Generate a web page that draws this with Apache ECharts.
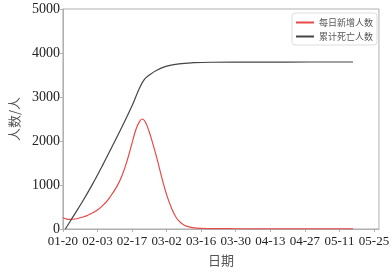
<!DOCTYPE html>
<html>
<head>
<meta charset="utf-8">
<script src="https://cdn.jsdelivr.net/npm/echarts@6/dist/echarts.min.js"></script>
<style>
    html, body { margin: 0; padding: 0; background: #fff; }
    #chart_1 { width: 392px; height: 272px; }
</style>
</head>
<body>
<div id="chart_1"></div>
<script>
// 数据 (从图上读取, 天数从 01-20 起算)
var tickLabels = ['01-20', '02-03', '02-17', '03-02', '03-16', '03-30', '04-13', '04-27', '05-11', '05-25'];

var newDays = [0, 1, 2, 3, 5, 7, 10, 14, 17, 19, 22, 24, 26, 28, 29.5, 31, 32.2, 33.5, 35, 36, 38, 40, 42, 44, 46, 48, 50, 54, 60, 70, 85, 100, 117.5];
var newVals = [260, 235, 220, 218, 228, 255, 310, 430, 580, 720, 980, 1220, 1550, 1950, 2250, 2440, 2500, 2420, 2200, 2020, 1620, 1180, 780, 470, 250, 130, 65, 22, 10, 6, 4, 3, 2];

var deathDays = [1, 4, 8, 12, 16, 20, 24, 28, 31, 33, 35, 38, 42, 47, 53, 60, 80, 100, 117.5];
var deathVals = [0, 270, 630, 1020, 1440, 1880, 2330, 2800, 3200, 3400, 3500, 3610, 3700, 3755, 3780, 3790, 3792, 3795, 3795];

function pairs(xs, ys) {
    var out = [];
    for (var i = 0; i < xs.length; i++) {
        out.push([xs[i], ys[i]]);
    }
    return out;
}

var myChart = echarts.init(document.getElementById('chart_1'));

var serifFont = '"Liberation Serif", "Times New Roman", serif';
var cjkFont = '"Noto Sans CJK SC", sans-serif';

var option = {
    animation: false,
    grid: {
        left: 51,
        right: 11,
        top: 9,
        bottom: 34,
        show: true,
        borderColor: '#b0b0b0',
        borderWidth: 1
    },
    legend: {
        top: 13,
        right: 15,
        orient: 'vertical',
        itemWidth: 18,
        itemHeight: 2,
        itemGap: 5,
        padding: [5, 4, 4, 4],
        borderColor: '#dddddd',
        borderWidth: 1,
        borderRadius: 3,
        icon: 'rect',
        textStyle: {
            fontFamily: cjkFont,
            fontSize: 9,
            color: '#555'
        },
        data: ['每日新增人数', '累计死亡人数']
    },
    xAxis: {
        type: 'value',
        min: 0,
        max: 128,
        interval: 14,
        name: '日期',
        nameLocation: 'middle',
        nameGap: 25,
        nameTextStyle: {
            fontFamily: cjkFont,
            fontSize: 13,
            color: '#555'
        },
        splitLine: { show: false },
        axisLine: { lineStyle: { color: '#b0b0b0' } },
        axisTick: { length: 3, lineStyle: { color: '#b0b0b0' } },
        axisLabel: {
            showMaxLabel: false,
            margin: 6,
            fontFamily: serifFont,
            fontSize: 13,
            color: '#222',
            formatter: function (v) {
                if (v % 14 !== 0) return '';
                return tickLabels[v / 14] || '';
            }
        }
    },
    yAxis: {
        type: 'value',
        min: 0,
        max: 5000,
        interval: 1000,
        name: '人数/人',
        nameLocation: 'middle',
        nameGap: 41,
        nameTextStyle: {
            fontFamily: cjkFont,
            fontSize: 13,
            color: '#555'
        },
        splitLine: { show: false },
        axisLine: { show: true, lineStyle: { color: '#b0b0b0' } },
        axisTick: { show: true, length: 3, lineStyle: { color: '#b0b0b0' } },
        axisLabel: {
            margin: 3,
            fontFamily: serifFont,
            fontSize: 14,
            color: '#222',
            formatter: function (v) {
                return String(v);
            }
        }
    },
    series: [
        {
            name: '每日新增人数',
            type: 'line',
            smooth: 0.4,
            showSymbol: false,
            color: '#e84a4a',
            lineStyle: { width: 1.2, color: '#e84a4a' },
            data: pairs(newDays, newVals)
        },
        {
            name: '累计死亡人数',
            type: 'line',
            smooth: 0.4,
            showSymbol: false,
            color: '#444444',
            lineStyle: { width: 1.2, color: '#444444' },
            data: pairs(deathDays, deathVals)
        }
    ]
};

myChart.setOption(option);
window.addEventListener('resize', function () {
    myChart.resize();
});
</script>
</body>
</html>
